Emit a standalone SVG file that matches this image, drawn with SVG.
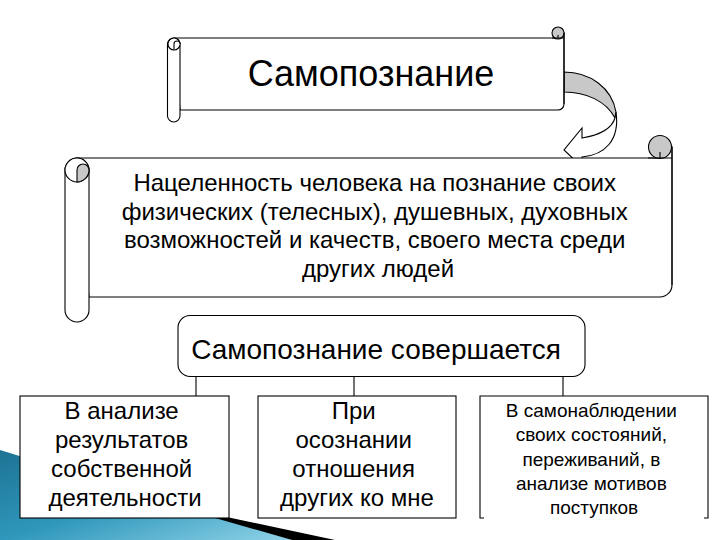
<svg xmlns="http://www.w3.org/2000/svg" width="720" height="540" viewBox="0 0 720 540">
<defs>
<linearGradient id="blueGrad" x1="0" y1="0" x2="1" y2="1">
<stop offset="0" stop-color="#1d7394"/>
<stop offset="0.5" stop-color="#2f97bb"/>
<stop offset="1" stop-color="#8fd3e8"/>
</linearGradient>
<style>
.ln{fill:none;stroke:#000;stroke-width:1.1}
.wf{fill:#fff;stroke:#000;stroke-width:1.1}
.gf{fill:#c8c8c8;stroke:#000;stroke-width:1.1}
.t{font-family:"Liberation Sans",Arial,sans-serif;fill:#000;text-anchor:middle}
</style>
</defs>
<rect width="720" height="540" fill="#fff"/>
<g id="decor">
<polygon points="0,450 292,540 0,540" fill="url(#blueGrad)"/>
<polygon points="170,505 335,540 292,540" fill="#000"/>
</g>
<g id="connectors">
<line class="ln" x1="196" y1="377" x2="196" y2="396"/>
<line class="ln" x1="354" y1="377" x2="354" y2="396"/>
<line class="ln" x1="563" y1="377" x2="563" y2="396"/>
<g id="curved-arrow">
<path class="gf" d="M564,72 C590,72 612,88 616,112 L615,118 C606,101 586,92 564,92 Z"/>
<path class="wf" d="M616,112 C620,140 605,155 582,157 L583,168 L564,150 L582,128 L582,138 C600,135 612,128 615,118 Z"/>
</g>
</g>
<g id="scroll-top">
<path class="wf" d="M174,38 H558 L564,33 V104 A6,6 0 0 1 558,110 H180 Z"/>
<rect class="wf" x="167.5" y="38" width="12.5" height="84" rx="6.25"/>
<circle class="wf" cx="174" cy="44" r="6"/>
<path class="wf" d="M174,50 V44 A3,3 0 0 1 180,44"/>
<circle class="gf" cx="558" cy="33" r="6"/>
<path class="ln" d="M558,35 V38 M552,38 H564"/>
<line class="ln" x1="564" y1="33" x2="564" y2="104"/>
<text class="t" x="371" y="86" font-size="36">Самопознание</text>
</g>
<g id="scroll-definition">
<path class="wf" d="M77,158 H660 L672,147 V285 A12,12 0 0 1 660,297 H89 Z"/>
<rect class="wf" x="65" y="158" width="24" height="164" rx="12"/>
<circle class="wf" cx="77" cy="170" r="12"/>
<path class="gf" d="M77,182 V170 A6,6 0 0 1 89,170 A12,12 0 0 1 77,182 Z"/>
<circle class="gf" cx="660" cy="147" r="11.5"/>
<path class="ln" d="M660,152 V158 M648,158 H672"/>
<line class="ln" x1="672" y1="147" x2="672" y2="285"/>
<text class="t" font-size="24">
<tspan x="378" y="191">Нацеленность человека на познание своих</tspan>
<tspan x="378" y="220">физических (телесных), душевных, духовных</tspan>
<tspan x="378" y="248">возможностей и качеств, своего места среди</tspan>
<tspan x="378" y="277">других людей</tspan>
</text>
</g>
<g id="box-main">
<rect class="wf" x="178" y="315.5" width="407" height="61" rx="12"/>
<text class="t" x="376" y="359" font-size="28">Самопознание совершается</text>
</g>
<g id="box-1">
<rect class="wf" x="20" y="396" width="209" height="122"/>
<text class="t" font-size="24">
<tspan x="125" y="419">В анализе</tspan>
<tspan x="125" y="448">результатов</tspan>
<tspan x="125" y="477">собственной</tspan>
<tspan x="125" y="506">деятельности</tspan>
</text>
</g>
<g id="box-2">
<rect class="wf" x="258" y="396" width="198" height="122"/>
<text class="t" font-size="24">
<tspan x="357" y="419">При</tspan>
<tspan x="357" y="448">осознании</tspan>
<tspan x="357" y="477">отношения</tspan>
<tspan x="357" y="506">других ко мне</tspan>
</text>
</g>
<g id="box-3">
<rect x="480" y="396" width="228" height="122" fill="#fff"/>
<path class="ln" d="M484,518 H480 V396 H708 V518 H704"/>
<text class="t" font-size="19">
<tspan x="594" y="417">В самонаблюдении</tspan>
<tspan x="594" y="441">своих состояний,</tspan>
<tspan x="594" y="466">переживаний, в</tspan>
<tspan x="594" y="490">анализе мотивов</tspan>
<tspan x="594" y="514">поступков</tspan>
</text>
</g>
</svg>
